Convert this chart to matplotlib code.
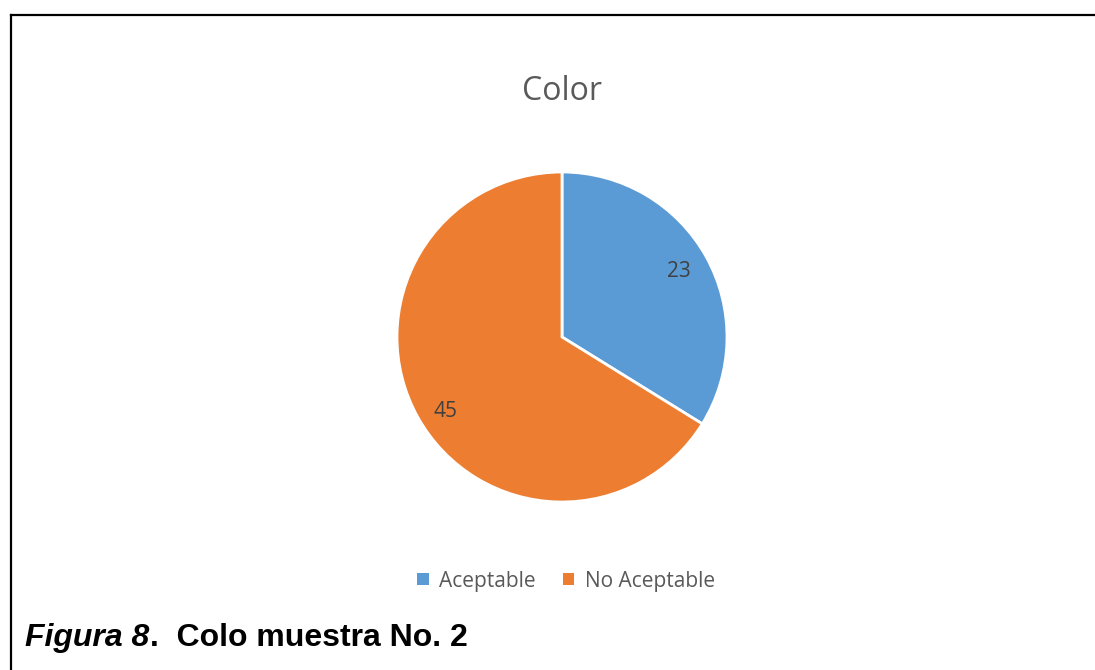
import matplotlib.pyplot as plt
from matplotlib.lines import Line2D
from matplotlib.patches import Patch

W, H = 1095, 670

categories = ['Aceptable', 'No Aceptable']
values = [23, 45]
colors = ['#5B9BD5', '#ED7D31']

fig = plt.figure(figsize=(W / 100, H / 100), dpi=100)
fig.patch.set_facecolor('white')

# pie axes: centre (562, 337) px, radius ~165 px
cx, cy, r = 562, 337, 165
ax = fig.add_axes([(cx - r) / W, (H - cy - r) / H, 2 * r / W, 2 * r / H])
wedges, texts, autotexts = ax.pie(values, colors=colors, startangle=90, counterclock=False,
                                  autopct=lambda p: '%d' % round(p * sum(values) / 100),
                                  pctdistance=0.81, radius=1,
                                  wedgeprops=dict(edgecolor='white', linewidth=2),
                                  textprops=dict(color='#404040', fontsize=15, family='Open Sans'))
# excel puts the big slice label a little lower
x, y = autotexts[1].get_position()
autotexts[1].set_position((x, y - 0.06))
ax.set_xlim(-1, 1)
ax.set_ylim(-1, 1)
ax.set_aspect('equal')
ax.axis('off')

# title
fig.text(cx / W, 1 - 91 / H, 'Color', ha='center', va='center', fontsize=23,
         color='#595959', family='Open Sans')

# legend
handles = [Patch(facecolor=c, edgecolor='none') for c in colors]
fig.legend(handles, categories, loc='center', bbox_to_anchor=(566 / W, 1 - 581 / H),
           ncol=2, frameon=False, handlelength=0.55, handleheight=0.55,
           handletextpad=0.5, columnspacing=1.3,
           prop=dict(family='Open Sans', size=15), labelcolor='#595959')

# caption
cap1 = fig.text(25 / W, 1 - 638 / H, 'Figura 8', ha='left', va='center', fontsize=23,
                fontweight='bold', fontstyle='italic', family='Liberation Sans')
fig.canvas.draw()
bb = cap1.get_window_extent()
fig.text(bb.x1 / W + 1 / W, 1 - 638 / H, '.  Colo muestra No. 2', ha='left', va='center',
         fontsize=23, fontweight='bold', family='Liberation Sans')

# frame (open at bottom and right)
lw = 1.6
fig.add_artist(Line2D([11 / W, 11 / W], [0, 1 - 15 / H], color='black', lw=lw))
fig.add_artist(Line2D([11 / W, 1094 / W], [1 - 15 / H, 1 - 15 / H], color='black', lw=lw))

fig.savefig('out.png', dpi=100)
